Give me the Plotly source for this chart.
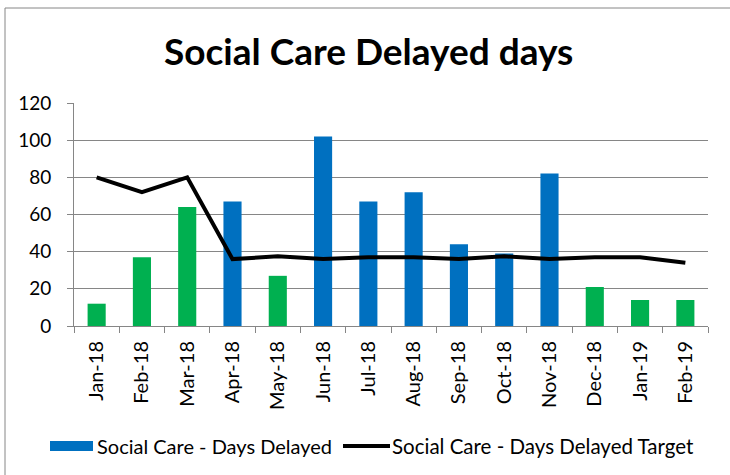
import plotly.graph_objects as go

# ---- data ----
months = ["Jan-18", "Feb-18", "Mar-18", "Apr-18", "May-18", "Jun-18", "Jul-18",
          "Aug-18", "Sep-18", "Oct-18", "Nov-18", "Dec-18", "Jan-19", "Feb-19"]
days_delayed = [12, 37, 64, 67, 27, 102, 67, 72, 44, 39, 82, 21, 14, 14]
days_target = [80, 72, 80, 36, 37.5, 36, 37, 37, 36, 37.5, 36, 37, 37, 34]
met_target = [True, True, True, False, True, False, False, False, False, False,
              False, True, True, True]
bar_name = "Social Care - Days Delayed"
line_name = "Social Care - Days Delayed Target"
title_text = "Social Care Delayed days"
y_ticks = [0, 20, 40, 60, 80, 100, 120]

BLUE = "#0070C0"
GREEN = "#00B050"
GRID = "#868686"
FONT = "Lato, 'Open Sans', sans-serif"

W, H = 730, 475
ML, MR, MT, MB = 74, 22, 103, 149
PW, PH = W - ML - MR, H - MT - MB


def px2x(px):
    return (px - ML) / PW


def py2y(py):
    return 1 - (py - MT) / PH


blue_vals = [v if not m else None for v, m in zip(days_delayed, met_target)]
green_vals = [v if m else None for v, m in zip(days_delayed, met_target)]

fig = go.Figure()
fig.add_trace(go.Bar(x=months, y=blue_vals, name=bar_name,
                     marker=dict(color=BLUE, line=dict(width=0)), showlegend=False))
fig.add_trace(go.Bar(x=months, y=green_vals, name=bar_name + " (met)",
                     marker=dict(color=GREEN, line=dict(width=0)), showlegend=False))
fig.add_trace(go.Scatter(x=months, y=days_target, name=line_name, mode="lines",
                         line=dict(color="black", width=4), showlegend=False))

shapes = [
    # outer chart border
    dict(type="rect", xref="paper", yref="paper",
         x0=px2x(5), x1=px2x(740), y0=py2y(490), y1=py2y(8),
         line=dict(color=GRID, width=1), fillcolor="rgba(0,0,0,0)", layer="below"),
    # legend swatches
    dict(type="rect", xref="paper", yref="paper",
         x0=px2x(50), x1=px2x(93), y0=py2y(451), y1=py2y(441),
         line=dict(width=0), fillcolor=BLUE),
    dict(type="line", xref="paper", yref="paper",
         x0=px2x(343), x1=px2x(390), y0=py2y(446), y1=py2y(446),
         line=dict(color="black", width=4)),
]

annotations = [
    dict(text=bar_name, xref="paper", yref="paper", x=px2x(95), y=py2y(446),
         xanchor="left", yanchor="middle", showarrow=False,
         font=dict(family=FONT, size=20, color="black")),
    dict(text=line_name, xref="paper", yref="paper", x=px2x(390), y=py2y(446),
         xanchor="left", yanchor="middle", showarrow=False,
         font=dict(family=FONT, size=20.5, color="black")),
]

fig.update_layout(
    width=W, height=H,
    margin=dict(l=ML, r=MR, t=MT, b=MB),
    paper_bgcolor="white", plot_bgcolor="white",
    barmode="overlay", bargap=0.6,
    title=dict(text="<b>" + title_text + "</b>", x=0.505, xref="container",
               xanchor="center", y=1 - 52 / H, yref="container", yanchor="middle",
               font=dict(family=FONT, size=37, color="black")),
    font=dict(family=FONT, size=18, color="black"),
    shapes=shapes,
    annotations=annotations,
    showlegend=False,
)
fig.update_xaxes(type="category", tickson="boundaries", ticks="outside", ticklen=6,
                 tickcolor=GRID, tickwidth=1, showline=True, linecolor=GRID, linewidth=1,
                 tickangle=-90, showgrid=False, ticklabelstandoff=6,
                 tickfont=dict(family=FONT, size=20, color="black"))
fig.update_yaxes(range=[0, 120], tickvals=y_ticks, ticks="outside", ticklen=6,
                 tickcolor=GRID, tickwidth=1, showline=True, linecolor=GRID, linewidth=1,
                 showgrid=True, gridcolor=GRID, gridwidth=1, zeroline=False,
                 ticklabelstandoff=12,
                 tickfont=dict(family=FONT, size=19, color="black"))

fig.write_html("out.html", config={"responsive": False, "displayModeBar": False},
               post_script="document.body.style.margin='0px';"
                           "document.body.style.overflow='hidden';")
